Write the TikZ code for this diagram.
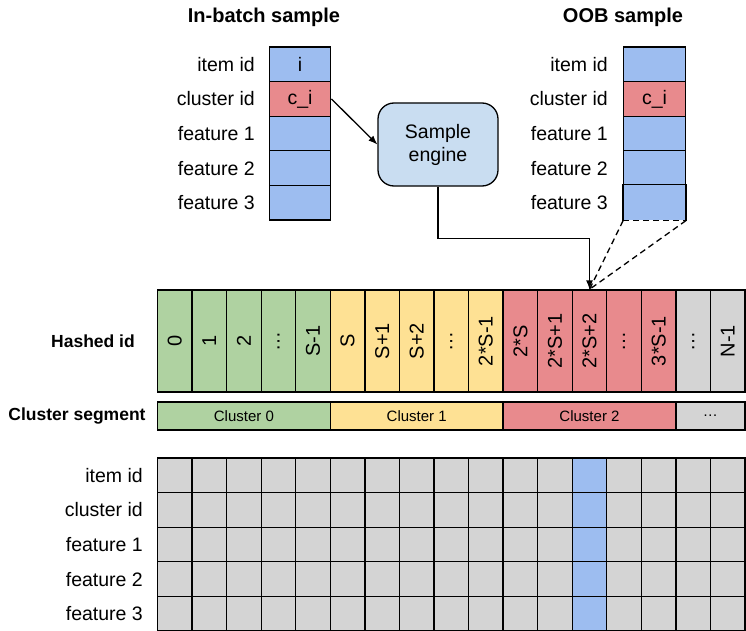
\documentclass[tikz,border=0pt]{standalone}
\usepackage{fontspec}
\setmainfont{Liberation Sans}
\usetikzlibrary{positioning, arrows.meta}
\definecolor{cellblue}{HTML}{9DBDF0}
\definecolor{cellred}{HTML}{E88A8D}
\definecolor{cellgreen}{HTML}{AFD2A1}
\definecolor{cellyellow}{HTML}{FEE194}
\definecolor{cellgray}{HTML}{D4D4D4}
\definecolor{engineblue}{HTML}{C9DDF1}
\begin{document}
\begin{tikzpicture}[x=1pt, y=-1pt,
  cell/.style={rectangle, draw, line width=1.3pt, fill=#1, minimum width=61.5pt, minimum height=34.6pt, inner sep=0pt, font=\fontsize{19.5}{22}\selectfont},
  hcell/.style={rectangle, draw, line width=1.3pt, fill=#1, minimum width=34.56pt, minimum height=102pt, inner sep=0pt, font=\fontsize{20}{22}\selectfont},
  gcell/.style={rectangle, draw, line width=1.3pt, fill=#1, minimum width=34.56pt, minimum height=34.6pt, inner sep=0pt},
  seg/.style={rectangle, draw, line width=1.3pt, fill=#1, minimum height=28pt, inner sep=0pt, font=\fontsize{15}{17}\selectfont},
  lbl/.style={anchor=east, inner sep=0pt, font=\fontsize{19.5}{22}\selectfont},
  title/.style={inner sep=0pt, font=\fontsize{20}{24}\selectfont\bfseries},
  rowname/.style={inner sep=0pt, font=\fontsize{17.5}{21}\selectfont\bfseries},
  engine/.style={rectangle, draw, line width=1.3pt, rounded corners=16pt, fill=engineblue, minimum width=120pt, minimum height=83pt, align=center, font=\fontsize{19.5}{23}\selectfont},
  arrow/.style={-{Latex[length=9pt,width=7pt]}, line width=1.3pt},
  dashline/.style={dash pattern=on 6pt off 4pt, line width=1.3pt}
]
  \useasboundingbox (0,0) rectangle (746,631);

  % samples at the top
  \node[title] (intitle)  at (264,17) {In-batch sample};
  \node[title] (oobtitle) at (623,17) {OOB sample};

  \foreach \lab/\col/\txt [count=\k from 0] in {item id/cellblue/i, cluster id/cellred/c\_i, feature 1/cellblue/{}, feature 2/cellblue/{}, feature 3/cellblue/{}} {
    \node[lbl] (inlab\k) at (255,{64.3+34.6*\k}) {\lab};
    \node[cell=\col] (in\k) at (300,{64.3+34.6*\k}) {\txt};
  }
  \foreach \lab/\col/\txt [count=\k from 0] in {item id/cellblue/{}, cluster id/cellred/c\_i, feature 1/cellblue/{}, feature 2/cellblue/{}} {
    \node[lbl] (ooblab\k) at (608,{64.3+34.6*\k}) {\lab};
    \node[cell=\col] (oob\k) at (654.5,{64.3+34.6*\k}) {\txt};
  }
  \node[lbl] (ooblab4) at (608,202.7) {feature 3};
  \node[cell=cellblue, draw=none] (oob4) at (654.5,202.7) {};
  \draw[line width=1.3pt] (oob4.south west) -- (oob4.north west) -- (oob4.north east) -- (oob4.south east);
  \draw[dashline] (oob4.south west) -- (oob4.south east);

  \node[engine] (engine) at (438,144.5) {Sample\\engine};

  % hashed ids
  \node[rowname] (hashlab) at (93,341) {Hashed id};
  \foreach \txt/\col [count=\k from 0] in {0/cellgreen, 1/cellgreen, 2/cellgreen, …/cellgreen, S-1/cellgreen,
      S/cellyellow, S+1/cellyellow, S+2/cellyellow, …/cellyellow, 2*S-1/cellyellow,
      2*S/cellred, 2*S+1/cellred, 2*S+2/cellred, …/cellred, 3*S-1/cellred, …/cellgray, N-1/cellgray} {
    \node[hcell=\col] (h\k) at ({174.78+34.56*\k},341) {\rotatebox{90}{\txt}};
  }

  % cluster segments
  \node[rowname] (seglab) at (77,416) {Cluster segment};
  \node[seg=cellgreen, minimum width=172.8pt]  (seg0) at (243.9,416) {Cluster 0};
  \node[seg=cellyellow, minimum width=172.8pt] (seg1) at (416.7,416) {Cluster 1};
  \node[seg=cellred, minimum width=172.8pt]    (seg2) at (589.5,416) {Cluster 2};
  \node[seg=cellgray, minimum width=69.1pt]    (seg3) at (710.4,416) {…};

  % table of all items
  \foreach \lab [count=\r from 0] in {item id, cluster id, feature 1, feature 2, feature 3} {
    \node[lbl] (glab\r) at (143,{475.3+34.6*\r}) {\lab};
    \foreach \c in {0,...,16} {
      \ifnum\c=12 \def\gcol{cellblue}\else\def\gcol{cellgray}\fi
      \node[gcell=\gcol] (g\r-\c) at ({174.78+34.56*\c},{475.3+34.6*\r}) {};
    }
  }

  \draw[arrow] (in1.east) -- (engine.west);
  \draw[arrow] (engine.south) -- ++(0,52) -| (h12.north);
  \draw[dashline] (oob4.south west) -- (h12.north);
  \draw[dashline] (oob4.south east) -- (h12.north);
\end{tikzpicture}
\end{document}
